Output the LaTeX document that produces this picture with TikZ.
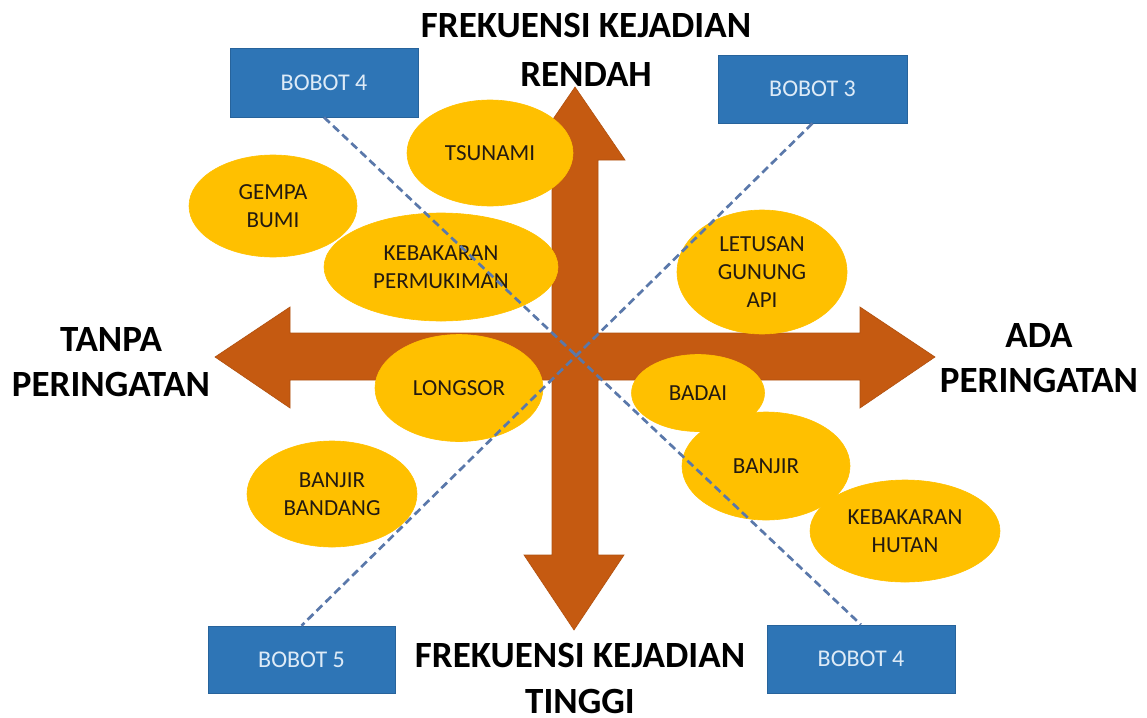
\documentclass[tikz,border=0pt]{standalone}
\usepackage{fontspec}
\setmainfont{Carlito}
\usetikzlibrary{shapes.geometric}
\definecolor{arrowc}{HTML}{C55A11}
\definecolor{ellc}{HTML}{FFC000}
\definecolor{boxc}{HTML}{2E75B6}
\definecolor{boxtxt}{HTML}{DEEBF7}
\definecolor{dashc}{HTML}{5A78AA}
\definecolor{elltxt}{HTML}{231A10}
\begin{document}
\begin{tikzpicture}[x=1pt,y=-1pt,
  hazard/.style={ellipse, fill=ellc, draw=ellc, line width=0.6pt, inner sep=0pt, align=center, text=elltxt, font=\fontsize{23}{28}\selectfont},
  bobot/.style={rectangle, fill=boxc, draw=boxc!85!black, line width=0.6pt, minimum width=188pt, minimum height=68pt, text=boxtxt, font=\fontsize{24}{28}\selectfont, inner sep=0pt},
  axislabel/.style={align=center, inner sep=0pt, anchor=north, text=black},
  wline/.style={dashc, dash pattern=on 8pt off 4.5pt, line width=2.7pt}
]
\useasboundingbox (0,0) rectangle (1147,717);
% four-way arrow
\fill[arrowc, draw=arrowc!90!black, line width=0.6pt]
  (575,87) -- (625,160) -- (598,160) -- (598,333) -- (860,333) -- (860,307)
  -- (935,357) -- (860,408) -- (860,380) -- (598,380) -- (598,555) -- (624,555)
  -- (574,630) -- (524,555) -- (552,555) -- (552,380) -- (290,380) -- (290,408)
  -- (215,357) -- (290,307) -- (290,333) -- (552,333) -- (552,160) -- (525,160) -- cycle;
% hazards
\node[hazard, minimum width=166pt, minimum height=106pt] (tsunami) at (490,153) {TSUNAMI};
\node[hazard, minimum width=168pt, minimum height=102pt] (gempa) at (273,206) {GEMPA\\BUMI};
\node[hazard, minimum width=234pt, minimum height=108pt] (permukiman) at (441,267) {KEBAKARAN\\PERMUKIMAN};
\node[hazard, minimum width=170pt, minimum height=124pt] (letusan) at (762,272) {LETUSAN\\GUNUNG\\API};
\node[hazard, minimum width=168pt, minimum height=107pt] (longsor) at (459,388) {LONGSOR};
\node[hazard, minimum width=170pt, minimum height=106pt] (bandang) at (332,494) {BANJIR\\BANDANG};
\node[hazard, minimum width=133pt, minimum height=77pt] (badai) at (698,393) {BADAI};
\node[hazard, minimum width=168pt, minimum height=108pt] (banjir) at (766,466) {BANJIR};
\node[hazard, minimum width=190pt, minimum height=102pt] (hutan) at (905,531) {KEBAKARAN\\HUTAN};
% weight boxes
\node[bobot, minimum width=188pt, minimum height=69pt] (bobotA) at (324,82.5) {BOBOT 4};
\node[bobot, minimum width=189pt, minimum height=68pt] (bobotB) at (812.5,89) {BOBOT 3};
\node[bobot, minimum width=187pt, minimum height=67pt] (bobotC) at (301.5,659.5) {BOBOT 5};
\node[bobot, minimum width=188pt, minimum height=68pt] (bobotD) at (861,659) {BOBOT 4};
% dashed lines
\draw[wline] (bobotA.south) -- (bobotD.north);
\draw[wline] (bobotB.south) -- (bobotC.north);
% axis labels
\node[axislabel, font=\fontsize{37}{49}\selectfont\bfseries] (top) at (586,13) {FREKUENSI KEJADIAN\\RENDAH};
\node[axislabel, font=\fontsize{37}{46}\selectfont\bfseries] (bottom) at (580,643) {FREKUENSI KEJADIAN\\TINGGI};
\node[axislabel, font=\fontsize{37}{45}\selectfont\bfseries] (right) at (1039,323) {ADA\\PERINGATAN};
\node[axislabel, font=\fontsize{37}{45}\selectfont\bfseries] (left) at (111,327) {TANPA\\PERINGATAN};
\end{tikzpicture}
\end{document}
